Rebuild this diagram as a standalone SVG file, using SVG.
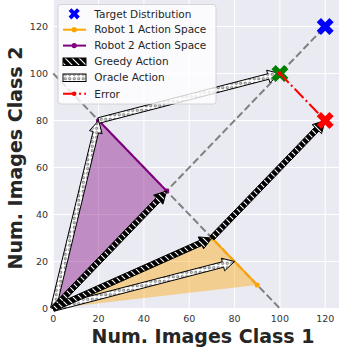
<svg xmlns="http://www.w3.org/2000/svg" width="339" height="350" viewBox="0 0 339 350">
  <defs>
    <style>
      .grid { stroke: #ffffff; stroke-width: 1; }
      .tick { font-family: "DejaVu Sans", sans-serif; font-size: 9.5px; fill: #333333; }
      .ylab { text-anchor: end; }
      .xlab { text-anchor: middle; }
      .axis-title { font-family: "DejaVu Sans", sans-serif; font-size: 19px; font-weight: bold; fill: #262626; text-anchor: middle; }
      .leg { font-family: "DejaVu Sans", sans-serif; font-size: 10.5px; fill: #262626; }
      .guide { stroke: #808080; stroke-width: 2; stroke-dasharray: 7.4 3.2; fill: none; }
      .greedy { fill: url(#greedyHatch); stroke: #000000; stroke-width: 1; stroke-linejoin: miter; }
      .oracle { fill: url(#oracleHatch); stroke: #000000; stroke-width: 1; stroke-linejoin: miter; }
      .err { stroke: #ff0000; stroke-width: 2; stroke-dasharray: 12.8 3.2 2 3.2; fill: none; }
    </style>
    <!-- black face with thin white back-slash stripes -->
    <pattern id="greedyHatch" patternUnits="userSpaceOnUse" width="7" height="7">
      <rect width="7" height="7" fill="#000000"/>
      <path d="M0,0 L7,7 M-1,6 L1,8 M6,-1 L8,1" stroke="#ffffff" stroke-width="1.1"/>
    </pattern>
    <!-- white face with small black rings -->
    <pattern id="oracleHatch" patternUnits="userSpaceOnUse" width="4.5" height="4.5">
      <rect width="4.5" height="4.5" fill="#ffffff"/>
      <circle cx="2.25" cy="2.25" r="1.1" fill="none" stroke="#000000" stroke-width="0.6"/>
    </pattern>
    <!-- filled X marker -->
    <path id="xmark" d="M-3,-9 H3 V-3 H9 V3 H3 V9 H-3 V3 H-9 V-3 H-3 Z" transform="rotate(45)"/>
  </defs>

  <!-- axes background and grid -->
  <rect x="53.3" y="0" width="286" height="308.5" fill="#eaeaf2"/>
  <g id="grid">
    <line class="grid" x1="53.3" y1="0" x2="53.3" y2="308.5"/>
    <line class="grid" x1="98.6" y1="0" x2="98.6" y2="308.5"/>
    <line class="grid" x1="143.9" y1="0" x2="143.9" y2="308.5"/>
    <line class="grid" x1="189.2" y1="0" x2="189.2" y2="308.5"/>
    <line class="grid" x1="234.6" y1="0" x2="234.6" y2="308.5"/>
    <line class="grid" x1="279.9" y1="0" x2="279.9" y2="308.5"/>
    <line class="grid" x1="325.2" y1="0" x2="325.2" y2="308.5"/>
    <line class="grid" x1="53.3" y1="308.5" x2="339" y2="308.5"/>
    <line class="grid" x1="53.3" y1="261.5" x2="339" y2="261.5"/>
    <line class="grid" x1="53.3" y1="214.5" x2="339" y2="214.5"/>
    <line class="grid" x1="53.3" y1="167.5" x2="339" y2="167.5"/>
    <line class="grid" x1="53.3" y1="120.5" x2="339" y2="120.5"/>
    <line class="grid" x1="53.3" y1="73.5" x2="339" y2="73.5"/>
    <line class="grid" x1="53.3" y1="26.5" x2="339" y2="26.5"/>
  </g>

  <!-- tick labels -->
  <g id="xticks" class="tick xlab">
    <text x="53.3" y="322">0</text>
    <text x="98.6" y="322">20</text>
    <text x="143.9" y="322">40</text>
    <text x="189.2" y="322">60</text>
    <text x="234.6" y="322">80</text>
    <text x="279.9" y="322">100</text>
    <text x="325.2" y="322">120</text>
  </g>
  <g id="yticks" class="tick ylab">
    <text x="48" y="312">0</text>
    <text x="48" y="265">20</text>
    <text x="48" y="218">40</text>
    <text x="48" y="171">60</text>
    <text x="48" y="124">80</text>
    <text x="48" y="77">100</text>
    <text x="48" y="30">120</text>
  </g>
  <text class="axis-title" x="203" y="343">Num. Images Class 1</text>
  <text class="axis-title" transform="translate(22,158) rotate(-90)">Num. Images Class 2</text>

  <!-- action spaces -->
  <g id="robot2-space">
    <polygon points="53.3,308.5 98.6,120.5 166.6,191" fill="#800080" fill-opacity="0.4"/>
  </g>
  <g id="robot1-space">
    <polygon points="53.3,308.5 211.9,238 257.2,285" fill="#ffa500" fill-opacity="0.4"/>
  </g>

  <!-- guide lines -->
  <g id="guides">
    <line class="guide" x1="53.3" y1="308.5" x2="325.2" y2="26.5"/>
    <line class="guide" x1="53.3" y1="73.5" x2="279.9" y2="308.5"/>
  </g>

  <g id="robot2-line">
    <line x1="98.6" y1="120.5" x2="166.6" y2="191" stroke="#800080" stroke-width="2"/>
    <circle cx="98.6" cy="120.5" r="2.6" fill="#800080"/>
    <circle cx="166.6" cy="191" r="2.6" fill="#800080"/>
  </g>
  <g id="robot1-line">
    <line x1="211.9" y1="238" x2="257.2" y2="285" stroke="#ffa500" stroke-width="2"/>
    <circle cx="211.9" cy="238" r="2.6" fill="#ffa500"/>
    <circle cx="257.2" cy="285" r="2.6" fill="#ffa500"/>
  </g>

  <!-- actions -->
  <g id="connectors">
    <polygon class="oracle" points="56.02,309.16 98.51,132.83 102.11,133.69 98.6,120.5 89.47,130.65 93.07,131.51 50.58,307.84"/>
    <polygon class="oracle" points="54.00,311.21 223.68,267.22 224.61,270.80 234.6,261.5 221.35,258.22 222.28,261.80 52.60,305.79"/>
    <polygon class="oracle" points="99.30,123.21 268.98,79.22 269.91,82.80 279.9,73.5 266.65,70.22 267.58,73.80 97.90,117.79"/>
    <polygon class="greedy" points="55.32,310.44 160.29,201.58 162.95,204.15 166.6,191 153.59,195.13 156.25,197.70 51.28,306.56"/>
    <polygon class="greedy" points="54.44,311.06 202.07,245.43 203.57,248.81 211.9,238 198.29,236.93 199.79,240.31 52.16,305.94"/>
    <polygon class="greedy" points="213.92,239.94 318.89,131.08 321.55,133.65 325.2,120.5 312.19,124.63 314.85,127.20 209.88,236.06"/>
  </g>

  <!-- targets -->
  <g id="target">
    <use href="#xmark" x="325.2" y="26.5" fill="#0000ff"/>
  </g>
  <g id="oracle-result">
    <use href="#xmark" x="279.9" y="73.5" fill="#008000"/>
  </g>
  <g id="greedy-result">
    <use href="#xmark" x="325.2" y="120.5" fill="#ff0000"/>
  </g>
  <g id="error">
    <line class="err" x1="279.9" y1="73.5" x2="325.2" y2="120.5"/>
    <circle cx="279.9" cy="73.5" r="2.3" fill="#ff0000"/>
  </g>

  <!-- legend -->
  <g id="legend">
    <rect x="58" y="4.5" width="158" height="99.5" rx="3" fill="#ffffff" fill-opacity="0.8" stroke="#cccccc" stroke-width="0.8"/>
    <use href="#xmark" transform="translate(74.2,13.8) scale(0.66)" fill="#0000ff"/>
    <line x1="63" y1="29.7" x2="86" y2="29.7" stroke="#ffa500" stroke-width="2"/>
    <circle cx="74.2" cy="29.7" r="2.6" fill="#ffa500"/>
    <line x1="63" y1="45.6" x2="86" y2="45.6" stroke="#800080" stroke-width="2"/>
    <circle cx="74.2" cy="45.6" r="2.6" fill="#800080"/>
    <rect class="greedy" x="63" y="58" width="23" height="7.5"/>
    <rect class="oracle" x="63" y="74" width="23" height="7.5"/>
    <line class="err" x1="63" y1="93.8" x2="86" y2="93.8"/>
    <circle cx="74.2" cy="93.8" r="2.3" fill="#ff0000"/>
    <text class="leg" x="94.3" y="17.5">Target Distribution</text>
    <text class="leg" x="94.3" y="33.4">Robot 1 Action Space</text>
    <text class="leg" x="94.3" y="49.3">Robot 2 Action Space</text>
    <text class="leg" x="94.3" y="65.3">Greedy Action</text>
    <text class="leg" x="94.3" y="81.4">Oracle Action</text>
    <text class="leg" x="94.3" y="97.5">Error</text>
  </g>
</svg>
